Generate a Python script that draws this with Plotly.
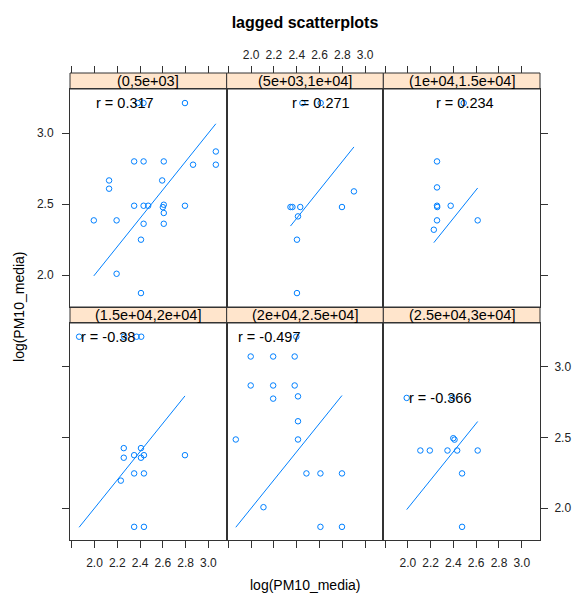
import plotly.graph_objects as go

# ---------------- data ----------------
PANEL_LABELS = ["(0,5e+03]", "(5e+03,1e+04]", "(1e+04,1.5e+04]",
                "(1.5e+04,2e+04]", "(2e+04,2.5e+04]", "(2.5e+04,3e+04]"]
R_LABELS = ["0.317", "0.271", "0.234", "-0.38", "-0.497", "-0.366"]

x_p1 = [2.794, 2.38, 2.43, 3.065, 2.348, 2.431, 2.608, 2.865, 3.065, 2.128, 2.594,
        2.128, 2.348, 2.431, 2.471, 2.608, 2.600, 2.794, 2.608, 1.994, 2.194, 2.431,
        2.608, 2.408, 2.194, 2.408]
y_p1 = [3.211, 3.211, 3.211, 2.870, 2.800, 2.800, 2.800, 2.777, 2.777, 2.666, 2.666,
        2.608, 2.488, 2.488, 2.488, 2.495, 2.478, 2.488, 2.437, 2.385, 2.385, 2.361,
        2.361, 2.249, 2.009, 1.873]

x_p2 = [2.45, 2.61, 2.345, 2.362, 2.431, 2.411, 2.402, 2.402, 2.797, 2.902]
y_p2 = [3.211, 3.211, 2.479, 2.479, 2.479, 2.413, 2.249, 1.873, 2.479, 2.589]

x_p3 = [2.49, 2.256, 2.256, 2.256, 2.258, 2.376, 2.256, 2.228, 2.613]
y_p3 = [3.211, 2.800, 2.617, 2.488, 2.479, 2.488, 2.385, 2.319, 2.385]

x_p4 = [1.865, 2.26, 2.37, 2.41, 2.257, 2.257, 2.348, 2.408, 2.408, 2.434, 2.794,
        2.348, 2.434, 2.231, 2.348, 2.434]
y_p4 = [3.213, 3.213, 3.213, 3.213, 2.425, 2.357, 2.375, 2.425, 2.357, 2.375, 2.375,
        2.246, 2.246, 2.195, 1.868, 1.868]

x_p5 = [1.865, 2.396, 1.996, 2.193, 2.382, 1.996, 2.193, 2.382, 2.193, 2.411, 2.411,
        2.411, 2.485, 2.608, 2.797, 2.108, 2.608, 2.797]
y_p5 = [2.486, 3.213, 3.073, 3.073, 3.073, 2.868, 2.868, 2.868, 2.775, 2.791, 2.615,
        2.486, 2.246, 2.246, 2.246, 2.007, 1.868, 1.868]

x_p6 = [1.99, 2.39, 2.110, 2.193, 2.348, 2.433, 2.613, 2.399, 2.41, 2.476, 2.476]
y_p6 = [2.78, 2.78, 2.408, 2.408, 2.408, 2.408, 2.408, 2.495, 2.485, 2.246, 1.868]

PANEL_X = [x_p1, x_p2, x_p3, x_p4, x_p5, x_p6]
PANEL_Y = [y_p1, y_p2, y_p3, y_p4, y_p5, y_p6]

X_TICKS = [1.8, 2.0, 2.2, 2.4, 2.6, 2.8, 3.0]
X_TICK_TEXT = ["", "2.0", "2.2", "2.4", "2.6", "2.8", "3.0"]
Y_TICKS = [2.0, 2.5, 3.0]
Y_TICK_TEXT = ["2.0", "2.5", "3.0"]

X_RANGE = [1.785, 3.16]
Y_RANGE = [1.775, 3.31]

# ---------------- style / layout ----------------
W, H = 583, 594
ML, MR, MT, MB = 70, 34, 73, 54
PH = H - MT - MB
BLUE = "#0080ff"
FRAME = "#333333"
STRIP_BG = "#ffe5cc"
FONT = "Liberation Sans, Arial, sans-serif"

def py(pix):  # page pixel (from top) -> paper fraction
    return (H - MB - pix) / PH

row_dom = [[py(307), py(89)], [0.0, py(323)]]
strip_dom = [[py(89), 1.0], [py(323), py(307)]]
col_dom = [[0, 1 / 3], [1 / 3, 2 / 3], [2 / 3, 1.0]]

fig = go.Figure()
layout = dict(
    width=W, height=H, autosize=False,
    margin=dict(l=ML, r=MR, t=MT, b=MB, pad=0),
    paper_bgcolor="white", plot_bgcolor="white",
    showlegend=False,
    font=dict(family=FONT, size=12, color="#000"),
    title=dict(text="<b>lagged scatterplots</b>", x=0.5, xref="paper", xanchor="center",
               y=1 - 22 / H, yref="container", yanchor="middle",
               font=dict(size=16, family=FONT, color="#000")),
)
annotations = []
shapes = []

for i in range(6):
    r, c = divmod(i, 3)
    xa = "x" if i == 0 else f"x{i + 1}"
    ya = "y" if i == 0 else f"y{i + 1}"
    xs, ys = PANEL_X[i], PANEL_Y[i]
    # points
    fig.add_trace(go.Scatter(x=xs, y=ys, mode="markers", xaxis=xa, yaxis=ya,
                             marker=dict(symbol="circle-open", size=5.5, color=BLUE,
                                         line=dict(width=1, color=BLUE)),
                             hoverinfo="skip"))
    # y = x reference line over the range of x
    lo, hi = min(xs), max(xs)
    fig.add_trace(go.Scatter(x=[lo, hi], y=[lo, hi], mode="lines", xaxis=xa, yaxis=ya,
                             line=dict(color=BLUE, width=1), hoverinfo="skip"))
    # correlation label at (min x, max y)
    annotations.append(dict(x=lo, y=max(ys), xref=xa, yref=ya, text="r = " + R_LABELS[i],
                            showarrow=False, xanchor="left", yanchor="middle", xshift=0,
                            font=dict(size=14.5, family=FONT, color="#000")))

    # axes
    xkey = "xaxis" if i == 0 else f"xaxis{i + 1}"
    ykey = "yaxis" if i == 0 else f"yaxis{i + 1}"
    xax = dict(domain=col_dom[c], anchor=ya, range=X_RANGE, showgrid=False, zeroline=False,
               showline=True, linecolor=FRAME, linewidth=1, mirror=True,
               tickvals=X_TICKS, ticktext=X_TICK_TEXT, tickcolor=FRAME, ticklen=7,
               tickwidth=1, tickfont=dict(size=12, color="#222"))
    if r == 1:
        xax.update(ticks="outside", showticklabels=(c != 1), side="bottom",
                   ticklabelstandoff=5)
    else:
        xax.update(ticks="", showticklabels=False)
    yax = dict(domain=row_dom[r], anchor=xa, range=Y_RANGE, showgrid=False, zeroline=False,
               showline=True, linecolor=FRAME, linewidth=1, mirror=True,
               tickvals=Y_TICKS, ticktext=Y_TICK_TEXT, tickcolor=FRAME, ticklen=7,
               tickwidth=1, tickfont=dict(size=12, color="#222"))
    if c == 0:
        yax.update(ticks="outside", side="left", showticklabels=(r == 0),
                   ticklabelstandoff=6)
    elif c == 2:
        yax.update(ticks="outside", side="right", showticklabels=(r == 1),
                   ticklabelstandoff=4)
    else:
        yax.update(ticks="", showticklabels=False)
    layout[xkey] = xax
    layout[ykey] = yax

    # strip
    sd = strip_dom[r]
    shapes.append(dict(type="rect", xref="paper", yref="paper", x0=col_dom[c][0],
                       x1=col_dom[c][1], y0=sd[0], y1=sd[1], fillcolor=STRIP_BG,
                       line=dict(color=FRAME, width=1), layer="below"))
    annotations.append(dict(x=(col_dom[c][0] + col_dom[c][1]) / 2, y=(sd[0] + sd[1]) / 2,
                            xref="paper", yref="paper", text=PANEL_LABELS[i],
                            showarrow=False, xanchor="center", yanchor="middle",
                            font=dict(size=14.5, family=FONT, color="#000")))

# top tick axes above the first-row strips
for c in range(3):
    k = 7 + c
    base = "x" if c == 0 else f"x{c + 1}"
    ya = "y" if c == 0 else f"y{c + 1}"
    fig.add_trace(go.Scatter(x=[None], y=[None], xaxis=f"x{k}", yaxis=ya,
                             mode="markers", hoverinfo="skip"))
    layout[f"xaxis{k}"] = dict(overlaying=base, anchor="free", position=1.0, side="top",
                               range=X_RANGE, showgrid=False, zeroline=False,
                               showline=False, ticks="outside", ticklen=7, tickwidth=1,
                               tickcolor=FRAME, tickvals=X_TICKS, ticktext=X_TICK_TEXT,
                               showticklabels=(c == 1), ticklabelstandoff=2,
                               tickfont=dict(size=12, color="#222"))

annotations.append(dict(x=0.5, y=py(585), xref="paper", yref="paper",
                        text="log(PM10_media)", showarrow=False, xanchor="center",
                        yanchor="middle", font=dict(size=14, family=FONT, color="#000")))
annotations.append(dict(x=(18 - ML) / (W - ML - MR), y=py(306), xref="paper", yref="paper",
                        text="log(PM10_media)", showarrow=False, textangle=-90,
                        xanchor="center", yanchor="middle",
                        font=dict(size=14, family=FONT, color="#000")))

layout["annotations"] = annotations
layout["shapes"] = shapes
fig.update_layout(**layout)
fig.write_html("out.html")
